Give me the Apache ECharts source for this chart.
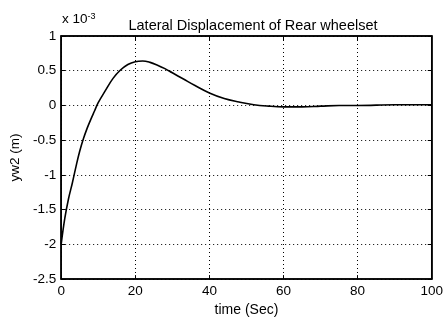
<!DOCTYPE html>
<html>
<head>
<meta charset="utf-8">
<script src="https://cdn.jsdelivr.net/npm/echarts@6/dist/echarts.min.js"></script>
<style>
  html, body { margin: 0; padding: 0; background: #fff; }
  #chart { width: 446px; height: 322px; }
</style>
</head>
<body>
<div id="chart"></div>
<script>
// Rear wheelset lateral displacement response (units of 1e-3 m)
const timeSec = [0, 1, 2, 3, 4, 5, 6, 7, 8, 9, 10, 12, 14, 16, 18, 20, 22, 24, 26, 28, 30, 33, 36, 40, 44, 48, 52, 56, 60, 65, 70, 75, 80, 90, 100];
const yw2 = [-2.0, -1.62, -1.34, -1.12, -0.88, -0.66, -0.48, -0.33, -0.2, -0.08, 0.04, 0.22, 0.39, 0.51, 0.59, 0.63, 0.64, 0.62, 0.58, 0.53, 0.47, 0.38, 0.29, 0.18, 0.1, 0.05, 0.01, -0.01, -0.02, -0.02, -0.01, 0.0, 0.0, 0.01, 0.01];
const xTicks = [0, 20, 40, 60, 80, 100];
const yTicks = [-2.5, -2, -1.5, -1, -0.5, 0, 0.5, 1];

const font = 'Liberation Sans, Arial, sans-serif';
const chart = echarts.init(document.getElementById('chart'));

const baseAxis = {
  axisLine: { show: true, onZero: false, lineStyle: { color: '#000', width: 1.5 } },
  axisTick: { show: true, inside: true, length: 4, lineStyle: { color: '#000' } },
  splitLine: { show: false },
  axisLabel: { show: false }
};

chart.setOption({
  animation: false,
  backgroundColor: '#fff',
  title: {
    text: 'Lateral Displacement of Rear wheelset',
    left: 248, top: 13, textAlign: 'center',
    textStyle: { fontFamily: font, fontSize: 14.5, fontWeight: 'normal', color: '#000' }
  },
  grid: { left: 61, right: 11, top: 36, bottom: 37, show: true, borderColor: '#000', borderWidth: 1.5 },
  xAxis: [
    Object.assign({}, baseAxis, {
      type: 'value', min: xTicks[0], max: xTicks[xTicks.length - 1], interval: 20, position: 'bottom',
      axisLabel: { show: true, color: '#000', fontFamily: font, fontSize: 13.5, margin: 5 },
      splitLine: { show: true, lineStyle: { color: '#000', type: [1, 3], width: 1 } },
      name: 'time (Sec)', nameLocation: 'middle', nameGap: 21,
      nameTextStyle: { color: '#000', fontFamily: font, fontSize: 14 }
    }),
    Object.assign({}, baseAxis, {
      type: 'value', min: xTicks[0], max: xTicks[xTicks.length - 1], interval: 20, position: 'top'
    })
  ],
  yAxis: [
    Object.assign({}, baseAxis, {
      type: 'value', min: yTicks[0], max: yTicks[yTicks.length - 1], interval: 0.5, position: 'left',
      axisLabel: { show: true, color: '#000', fontFamily: font, fontSize: 13.5, margin: 5 },
      splitLine: { show: true, lineStyle: { color: '#000', type: [1, 3], width: 1 } },
      name: 'yw2 (m)', nameLocation: 'middle', nameGap: 37, nameRotate: 90,
      nameTextStyle: { color: '#000', fontFamily: font, fontSize: 13.5 }
    }),
    Object.assign({}, baseAxis, {
      type: 'value', min: yTicks[0], max: yTicks[yTicks.length - 1], interval: 0.5, position: 'right'
    })
  ],
  graphic: [{
    type: 'text', left: 62, top: 12,
    style: {
      text: '{b|x 10}{s|-3}',
      rich: {
        b: { fontFamily: font, fontSize: 13.5, fill: '#000', verticalAlign: 'bottom' },
        s: { fontFamily: font, fontSize: 9, fill: '#000', verticalAlign: 'top' }
      }
    }
  }],
  series: [{
    type: 'line',
    data: timeSec.map((t, i) => [t, yw2[i]]),
    smooth: 0.4,
    showSymbol: false,
    lineStyle: { color: '#000', width: 1.6 },
    xAxisIndex: 0, yAxisIndex: 0
  }]
});
</script>
</body>
</html>
